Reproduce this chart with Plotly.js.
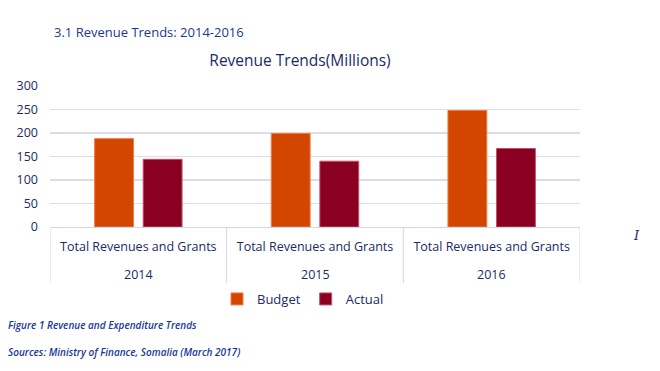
<!DOCTYPE html>
<html>
<head>
<meta charset="utf-8">
<script src="https://cdn.plot.ly/plotly-3.0.1.min.js"></script>
<style>html,body{margin:0;padding:0;background:#fff;}#chart{width:660px;height:371px;}</style>
</head>
<body>
<div id="chart"></div>
<script>
const years = ["2014", "2015", "2016"];
const category = "Total Revenues and Grants";
const budget = [188, 199, 248];
const actual = [144, 140, 167];
const yTicks = [0, 50, 100, 150, 200, 250, 300];

const FONT = "'Open Sans', sans-serif";
const NAVY = "#1c2a66";
const BLUE = "#1a3896";
const DIV = "#d6d6e4";
const W = 500;

const traces = [
  {type: "bar", name: "Budget", x: years, y: budget,
   marker: {color: "#d24600", line: {color: "#f07a48", width: 1}}},
  {type: "bar", name: "Actual", x: years, y: actual,
   marker: {color: "#8a0020", line: {color: "#c05068", width: 1}}}
];

const annotations = [
  {text: "3.1 Revenue Trends: 2014-2016", xref: "paper", yref: "paper", x: (52-50)/530, y: (227-32)/141,
   xanchor: "left", yanchor: "middle", showarrow: false, font: {family: FONT, size: 13, color: BLUE, weight: W}},
  {text: "<i>Figure 1 Revenue and Expenditure Trends</i>", xref: "paper", yref: "paper", x: (6-50)/530, y: (227-325)/141,
   xanchor: "left", yanchor: "middle", showarrow: false, font: {family: FONT, size: 10, color: BLUE, weight: 600}},
  {text: "<i>Sources: Ministry of Finance, Somalia (March 2017)</i>", xref: "paper", yref: "paper", x: (6-50)/530, y: (227-352)/141,
   xanchor: "left", yanchor: "middle", showarrow: false, font: {family: FONT, size: 10, color: BLUE, weight: 600}},
  {text: "<i>I</i>", xref: "paper", yref: "paper", x: (636-50)/530, y: (227-235)/141,
   xanchor: "center", yanchor: "middle", showarrow: false, font: {family: "DejaVu Serif, serif", size: 13, color: NAVY}}
];
years.forEach((yr, i) => annotations.push({
  text: yr, xref: "x", yref: "paper", x: i, y: (227-274)/141, xanchor: "center", yanchor: "middle",
  showarrow: false, font: {family: FONT, size: 12.5, color: NAVY, weight: W}
}));

const shapes = [];
for (let i = 0; i <= years.length; i++) {
  shapes.push({type: "line", xref: "x", yref: "paper", x0: i - 0.5, x1: i - 0.5, y0: 0, y1: (227-283)/141,
               line: {color: DIV, width: 1}});
}

const layout = {
  width: 660, height: 371,
  margin: {l: 50, r: 80, t: 86, b: 144},
  paper_bgcolor: "#fff", plot_bgcolor: "#fff",
  font: {family: FONT, color: NAVY, size: 12.5},
  barmode: "group", bargap: 0.45, bargroupgap: 0.2,
  title: {text: "Revenue Trends(Millions)", font: {family: FONT, size: 15.5, color: NAVY, weight: W},
          x: 300/660, xanchor: "center", xref: "container", y: 1 - 61/371, yanchor: "middle", yref: "container"},
  xaxis: {type: "category", range: [-0.5, years.length - 0.5], showline: true, linecolor: DIV, linewidth: 1,
          ticks: "", tickvals: years, ticktext: years.map(() => category), ticklabelstandoff: 8,
          tickfont: {family: FONT, size: 12.5, color: NAVY, weight: W}, showgrid: false},
  yaxis: {range: [0, 300], tickvals: yTicks, ticktext: yTicks.map(String), showline: false,
          gridcolor: "#dcdcea", gridwidth: 1.5, zeroline: false, ticks: "",
          ticklabelstandoff: 11, tickfont: {family: FONT, size: 12.5, color: NAVY, weight: W}},
  legend: {orientation: "h", x: (303-50)/530, xanchor: "center", y: (227-299)/141, yanchor: "middle",
           font: {family: FONT, size: 13, color: NAVY, weight: W}, traceorder: "normal"},
  showlegend: true,
  annotations: annotations,
  shapes: shapes
};

Plotly.newPlot("chart", traces, layout, {displayModeBar: false, staticPlot: true});
</script>
</body>
</html>
